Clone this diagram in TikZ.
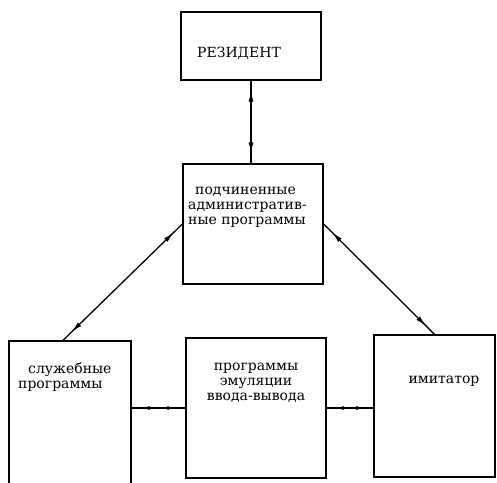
\documentclass[tikz,border=0pt]{standalone}
\usepackage{fontspec}
\newfontfamily\tw{DejaVu Serif}
\usetikzlibrary{arrows.meta,decorations.markings}

\tikzset{box/.style={draw,line width=1.3pt,inner sep=0pt},
  txt/.style={font=\tw\fontsize{14}{15}\selectfont,inner sep=0pt,anchor=base west,align=left},
  twoway/.style={line width=1.3pt,postaction={decorate},decoration={markings,
      mark=at position #1 with {\arrowreversed{Latex[length=11pt,width=5pt]}},
      mark=at position -#1 with {\arrow{Latex[length=11pt,width=5pt]}}}},
  twowayshort/.style={line width=1.3pt,postaction={decorate},decoration={markings,
      mark=at position #1 with {\arrowreversed{Latex[length=6pt,width=4.5pt]}},
      mark=at position -#1 with {\arrow{Latex[length=6pt,width=4.5pt]}}}}}

\begin{document}
\begin{tikzpicture}[x=1pt,y=-1pt]
  \useasboundingbox (0,0) rectangle (497,482); \clip (0,0) rectangle (497,482);
  % boxes
  \node[box,minimum width=140pt,minimum height=68pt] (res) at (251,46) {};
  \node[box,minimum width=140pt,minimum height=120pt] (adm) at (253,224) {};
  \node[box,minimum width=122pt,minimum height=154pt] (serv) at (70,418) {};
  \node[box,minimum width=140pt,minimum height=140pt] (emul) at (256,408) {};
  \node[box,minimum width=121pt,minimum height=142pt] (imit) at (434.5,406) {};
  % texts (base = last line)
  \node[txt,anchor=base] (tres) at (239,57) {РЕЗИДЕНТ};
  \node[txt] (tadm) at (188,224) {\hspace{7pt}подчиненные\\административ-\\ные программы};
  \node[txt] (tserv) at (18,388) {\hspace{10pt}служебные\\программы};
  \node[txt,anchor=base,align=center] (temul) at (256,400) {программы\\эмуляции\\ввода-вывода};
  \node[txt,anchor=base] (timit) at (444,383) {имитатор};
  % connectors
  \draw[twoway=10pt] (res.south) -- (res.south |- adm.north);
  \draw[twoway=12pt] (adm.west) -- ([xshift=-7pt]serv.north);
  \draw[twoway=12pt] (adm.east) -- (imit.north);
  \draw[twowayshort=12pt] (serv.east |- emul.west) -- (emul.west);
  \draw[twowayshort=11pt] (emul.east) -- (imit.west |- emul.east);
\end{tikzpicture}
\end{document}
